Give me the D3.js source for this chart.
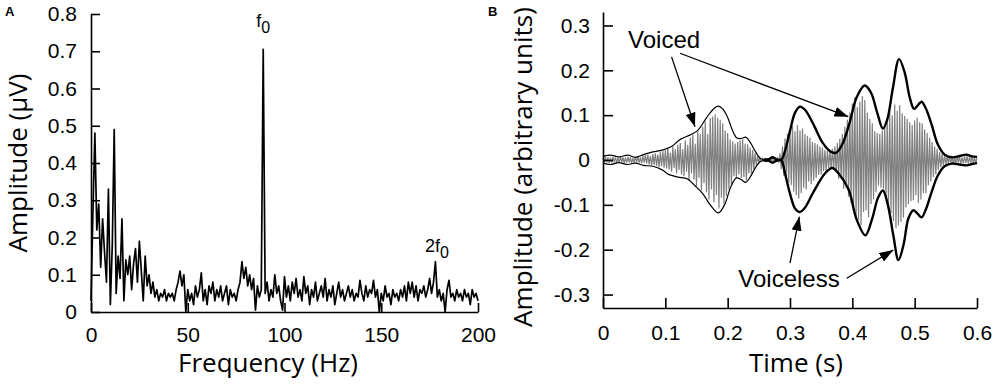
<!DOCTYPE html>
<html><head><meta charset="utf-8">
<script src="https://cdn.jsdelivr.net/npm/d3@7/dist/d3.min.js"></script>
<style>html,body{margin:0;padding:0;background:#fff;}svg{display:block;}</style>
</head><body>
<svg id="chart" width="1000" height="384"></svg>
<script>
// ---------- Panel A: spectrum (1 Hz resolution, 0..200 Hz) ----------
const specFreqStart = 0, specFreqStep = 1;
const specAmp = [
0.03,0.27,0.48,0.22,0.29,0.12,0.25,0.16,0.08,0.33,
0.02,0.18,0.49,0.05,0.15,0.09,0.25,0.03,0.14,0.10,
0.15,0.06,0.13,0.17,0.08,0.19,0.11,0.03,0.15,0.07,
0.10,0.05,0.08,0.04,0.06,0.03,0.05,0.04,0.06,0.03,
0.05,0.04,0.05,0.03,0.06,0.08,0.11,0.07,0.10,0.00,
0.06,0.03,0.05,0.02,0.07,0.04,0.06,0.105,0.03,0.06,
0.02,0.07,0.05,0.08,0.03,0.06,0.04,0.07,0.03,0.05,
0.07,0.02,0.06,0.04,0.05,0.03,0.06,0.08,0.135,0.09,
0.12,0.07,0.10,0.06,0.09,0.005,0.07,0.04,0.06,0.705,
0.05,0.08,0.03,0.06,0.04,0.10,0.05,0.07,0.03,0.005,
0.095,0.04,0.07,0.03,0.08,0.05,0.09,0.04,0.06,0.03,
0.095,0.05,0.07,0.02,0.06,0.04,0.08,0.03,0.05,0.07,
0.04,0.09,0.03,0.06,0.04,0.07,0.02,0.05,0.08,0.04,
0.06,0.03,0.05,0.07,0.04,0.06,0.03,0.05,0.04,0.085,
0.05,0.03,0.07,0.04,0.06,0.05,0.085,0.04,0.06,0.00,
0.05,0.03,0.07,0.04,0.05,0.02,0.06,0.04,0.05,0.03,
0.06,0.04,0.07,0.03,0.08,0.05,0.08,0.04,0.07,0.03,
0.06,0.05,0.07,0.04,0.06,0.09,0.05,0.08,0.135,0.04,
0.06,0.03,0.05,0.00,0.06,0.085,0.04,0.05,0.03,0.06,
0.04,0.05,0.03,0.06,0.04,0.05,0.02,0.06,0.04,0.05,
0.03];
const xTicksA = [0,50,100,150,200];
const yTicksA = [0,0.1,0.2,0.3,0.4,0.5,0.6,0.7,0.8];
const yLabelsA = ["0","0.1","0.2","0.3","0.4","0.5","0.6","0.7","0.8"];
const f0Label = [89, 0.766], f2Label = [178.8, 0.162];

// ---------- Panel B: waveform (step 2 ms, 0..0.6 s) ----------
const waveStep = 0.002;
const wave = [
0.004,-0.006,0.007,-0.005,0.006,-0.007,0.005,-0.006,0.007,-0.004,
0.006,-0.007,0.005,-0.006,0.008,-0.005,0.006,-0.007,0.005,-0.006,
0.007,-0.005,0.006,-0.008,0.005,-0.006,0.007,-0.005,0.008,-0.006,
0.006,-0.007,0.009,-0.006,0.011,-0.008,0.012,-0.010,0.009,-0.012,
0.013,-0.011,0.015,-0.013,0.012,-0.016,0.018,-0.014,0.020,-0.017,
0.022,-0.019,0.028,-0.021,0.016,-0.026,0.030,-0.018,0.024,-0.030,
0.034,-0.022,0.038,-0.032,0.024,-0.036,0.044,-0.026,0.034,-0.046,
0.050,-0.030,0.056,-0.044,0.036,-0.058,0.064,-0.040,0.058,-0.068,
0.074,-0.052,0.086,-0.072,0.058,-0.088,0.094,-0.066,0.097,-0.094,
0.102,-0.078,0.094,-0.108,0.090,-0.084,0.082,-0.098,0.066,-0.080,
0.060,-0.066,0.046,-0.055,0.042,-0.036,0.037,-0.040,0.040,-0.032,
0.044,-0.040,0.046,-0.038,0.036,-0.046,0.035,-0.030,0.028,-0.030,
0.022,-0.020,0.015,-0.012,0.008,-0.006,0.004,-0.003,0.003,-0.002,
0.002,-0.003,0.002,-0.002,0.003,-0.002,0.002,-0.003,0.002,-0.002,
0.004,-0.006,0.015,-0.020,0.030,-0.035,0.048,-0.038,0.058,-0.050,
0.068,-0.056,0.076,-0.070,0.064,-0.078,0.078,-0.086,0.066,-0.074,
0.070,-0.062,0.058,-0.066,0.054,-0.048,0.050,-0.054,0.040,-0.046,
0.038,-0.040,0.035,-0.033,0.030,-0.032,0.028,-0.025,0.022,-0.024,
0.020,-0.018,0.022,-0.020,0.025,-0.022,0.030,-0.028,0.038,-0.042,
0.048,-0.040,0.058,-0.064,0.074,-0.062,0.090,-0.082,0.106,-0.096,
0.126,-0.104,0.140,-0.128,0.118,-0.134,0.130,-0.145,0.142,-0.116,
0.134,-0.112,0.106,-0.128,0.092,-0.098,0.082,-0.088,0.064,-0.072,
0.060,-0.056,0.058,-0.062,0.066,-0.064,0.078,-0.084,0.094,-0.098,
0.108,-0.118,0.100,-0.136,0.124,-0.152,0.110,-0.146,0.122,-0.138,
0.104,-0.128,0.098,-0.106,0.092,-0.098,0.084,-0.092,0.078,-0.090,
0.088,-0.078,0.094,-0.096,0.084,-0.088,0.082,-0.074,0.068,-0.074,
0.060,-0.056,0.050,-0.048,0.040,-0.038,0.030,-0.032,0.025,-0.022,
0.018,-0.016,0.014,-0.012,0.011,-0.010,0.009,-0.008,0.008,-0.007,
0.007,-0.008,0.006,-0.007,0.008,-0.006,0.007,-0.008,0.006,-0.007,
0.008,-0.007,0.009,-0.008,0.007,-0.006,0.008,-0.007,0.006,-0.007,0.005];

// envelope, voiced part (thin)
const envThinT  = [0,0.012,0.025,0.040,0.052,0.065,0.080,0.095,0.110,0.124,0.140,0.152,0.166,0.178,0.185,0.192,0.200,0.208,0.215,0.222,0.229,0.236,0.244,0.252,0.258];
const envThinUp = [0.008,0.011,0.007,0.011,0.006,0.012,0.018,0.022,0.030,0.046,0.056,0.066,0.094,0.115,0.120,0.114,0.095,0.065,0.049,0.048,0.051,0.040,0.020,0.004,0.001];
const envThinLoT = [0,0.012,0.025,0.040,0.052,0.065,0.080,0.095,0.105,0.120,0.135,0.148,0.160,0.172,0.185,0.195,0.205,0.214,0.222,0.229,0.237,0.245,0.252,0.258];
const envThinLo = [-0.007,-0.010,-0.006,-0.010,-0.007,-0.012,-0.014,-0.022,-0.032,-0.038,-0.042,-0.058,-0.075,-0.100,-0.118,-0.100,-0.060,-0.040,-0.044,-0.050,-0.036,-0.016,-0.004,-0.001];
// envelope, second part (thick)
const envThickT  = [0.258,0.266,0.272,0.278,0.286,0.292,0.300,0.308,0.316,0.324,0.337,0.353,0.365,0.374,0.384,0.395,0.407,0.420,0.430,0.440,0.449,0.456,0.465,0.475,0.484,0.492,0.499,0.505,0.511,0.518,0.527,0.537,0.548,0.560,0.572,0.583,0.592,0.600];
const envThickUp = [0.001,0.002,0.006,0.002,0.001,0.020,0.065,0.105,0.119,0.112,0.081,0.037,0.019,0.016,0.035,0.080,0.140,0.166,0.150,0.105,0.070,0.090,0.160,0.225,0.195,0.140,0.114,0.122,0.130,0.115,0.080,0.035,0.012,0.006,0.009,0.012,0.008,0.007];
const envThickLoT = [0.258,0.266,0.272,0.278,0.286,0.292,0.300,0.308,0.315,0.323,0.337,0.356,0.368,0.378,0.394,0.407,0.421,0.432,0.441,0.449,0.457,0.466,0.474,0.482,0.490,0.498,0.505,0.511,0.518,0.527,0.537,0.548,0.560,0.572,0.583,0.592,0.600];
const envThickLo = [-0.001,-0.002,-0.006,-0.002,-0.001,-0.030,-0.075,-0.108,-0.116,-0.108,-0.073,-0.030,-0.018,-0.030,-0.066,-0.133,-0.168,-0.130,-0.085,-0.068,-0.100,-0.170,-0.223,-0.190,-0.130,-0.112,-0.120,-0.128,-0.110,-0.072,-0.035,-0.014,-0.008,-0.010,-0.012,-0.009,-0.007];

const xTicksB = [0,0.1,0.2,0.3,0.4,0.5,0.6];
const yTicksB = [-0.3,-0.2,-0.1,0,0.1,0.2,0.3];
const yLabelsB = ["-0.3","-0.2","-0.1","0","0.1","0.2","0.3"];

// annotations in data units: [t, amp]
const voicedText = [0.098, 0.249];
const voicelessText = [0.2984, -0.2825];
const arrowsB = [
  [[0.110,0.230],[0.1476,0.0742]],
  [[0.1235,0.238],[0.3935,0.0965]],
  [[0.300,-0.230],[0.315,-0.1264]],
  [[0.391,-0.2638],[0.4657,-0.2007]]
];

// ---------- drawing ----------
const svg = d3.select("#chart");
const TICKFONT = "'Liberation Sans', Arial, sans-serif";
const TITLEFONT = "'Open Sans', 'Noto Sans', sans-serif";

const xA = d3.scaleLinear().domain([0,200]).range([91,478]);
const yA = d3.scaleLinear().domain([0,0.8]).range([312,14]);
const xB = d3.scaleLinear().domain([0,0.6]).range([603,977]);
const yB = d3.scaleLinear().domain([-0.33,0.33]).range([308,12]);

function styleAxis(g, size){
  g.attr("font-family", TICKFONT).attr("font-size", size);
  g.selectAll("path.domain").attr("stroke","#000").attr("stroke-width",1.6);
  g.selectAll(".tick line").attr("stroke","#000").attr("stroke-width",1.6);
  g.selectAll(".tick text").attr("fill","#000");
}

// Panel A
const gAy = svg.append("g").attr("transform",`translate(${xA(0)},0)`)
  .call(d3.axisLeft(yA).tickValues(yTicksA).tickFormat((d,i)=>yLabelsA[i]).tickSizeInner(-9).tickSizeOuter(0).tickPadding(14));
styleAxis(gAy, 21);
const gAx = svg.append("g").attr("transform",`translate(0,${yA(0)})`)
  .call(d3.axisBottom(xA).tickValues(xTicksA).tickFormat(d=>String(d)).tickSizeInner(-9).tickSizeOuter(0).tickPadding(15));
styleAxis(gAx, 21);

const lineA = d3.line().x((d,i)=>xA(specFreqStart+i*specFreqStep)).y(d=>yA(d));
svg.append("path").datum(specAmp).attr("d",lineA)
  .attr("fill","none").attr("stroke","#000").attr("stroke-width",1.7).attr("stroke-linejoin","round");

function fLabel(pos, prefix){
  const t = svg.append("text").attr("x",xA(pos[0])).attr("y",yA(pos[1]))
    .attr("text-anchor","middle").attr("font-family",TICKFONT).attr("font-size",18).attr("fill","#000");
  t.append("tspan").text(prefix+"f");
  t.append("tspan").attr("dy",6.5).attr("font-size",16).text("0");
}
fLabel(f0Label, "");
fLabel(f2Label, "2");

svg.append("text").attr("transform",`translate(27,${(yA(0)+yA(0.8))/2}) rotate(-90)`)
  .attr("text-anchor","middle").attr("font-family",TITLEFONT).attr("font-size",26).attr("fill","#000")
  .text("Amplitude (μV)");
svg.append("text").attr("x",268).attr("y",372)
  .attr("text-anchor","middle").attr("font-family",TITLEFONT).attr("font-size",26).attr("fill","#000")
  .text("Frequency (Hz)");
svg.append("text").attr("x",5).attr("y",16).attr("font-family",TICKFONT).attr("font-weight","bold")
  .attr("font-size",13).text("A");

// Panel B
const lineW = d3.line().x((d,i)=>xB(i*waveStep)).y(d=>yB(d));
svg.append("path").datum(wave).attr("d",lineW)
  .attr("fill","none").attr("stroke","#808080").attr("stroke-width",1.2);

function envLine(ts, vs, w){
  const pts = ts.map((t,i)=>[t,vs[i]]);
  svg.append("path").datum(pts)
    .attr("d", d3.line().x(d=>xB(d[0])).y(d=>yB(d[1])).curve(d3.curveCatmullRom.alpha(0.5)))
    .attr("fill","none").attr("stroke","#000").attr("stroke-width",w).attr("stroke-linejoin","round");
}
envLine(envThinT, envThinUp, 1.2);
envLine(envThinLoT, envThinLo, 1.2);
envLine(envThickT, envThickUp, 2.4);
envLine(envThickLoT, envThickLo, 2.4);

const gBy = svg.append("g").attr("transform",`translate(${xB(0)},0)`)
  .call(d3.axisLeft(yB).tickValues(yTicksB).tickFormat((d,i)=>yLabelsB[i]).tickSizeInner(-10).tickSizeOuter(0).tickPadding(13));
styleAxis(gBy, 21);
const gBx = svg.append("g").attr("transform",`translate(0,${yB(-0.33)})`)
  .call(d3.axisBottom(xB).tickValues(xTicksB).tickFormat(d=>String(d)).tickSizeInner(-10).tickSizeOuter(0).tickPadding(17));
styleAxis(gBx, 21);

// arrowhead marker
const defs = svg.append("defs");
defs.append("marker").attr("id","ah").attr("viewBox","0 0 14 10").attr("refX",14).attr("refY",5)
  .attr("markerWidth",14).attr("markerHeight",10).attr("markerUnits","userSpaceOnUse").attr("orient","auto")
  .append("path").attr("d","M0,0 L14,5 L0,10 Z").attr("fill","#000");
arrowsB.forEach(a=>{
  svg.append("line").attr("x1",xB(a[0][0])).attr("y1",yB(a[0][1]))
    .attr("x2",xB(a[1][0])).attr("y2",yB(a[1][1]))
    .attr("stroke","#000").attr("stroke-width",1.3).attr("marker-end","url(#ah)");
});
svg.append("text").attr("x",xB(voicedText[0])).attr("y",yB(voicedText[1]))
  .attr("text-anchor","middle").attr("font-family",TICKFONT).attr("font-size",24).text("Voiced");
svg.append("text").attr("x",xB(voicelessText[0])).attr("y",yB(voicelessText[1]))
  .attr("text-anchor","middle").attr("font-family",TICKFONT).attr("font-size",24).text("Voiceless");

svg.append("text").attr("transform",`translate(532,167) rotate(-90)`)
  .attr("text-anchor","middle").attr("font-family",TITLEFONT).attr("font-size",26).attr("fill","#000")
  .text("Amplitude (arbitrary units)");
svg.append("text").attr("x",796).attr("y",372)
  .attr("text-anchor","middle").attr("font-family",TITLEFONT).attr("font-size",26).attr("fill","#000")
  .text("Time (s)");
svg.append("text").attr("x",488).attr("y",16).attr("font-family",TICKFONT).attr("font-weight","bold")
  .attr("font-size",13).text("B");
</script>
</body></html>
